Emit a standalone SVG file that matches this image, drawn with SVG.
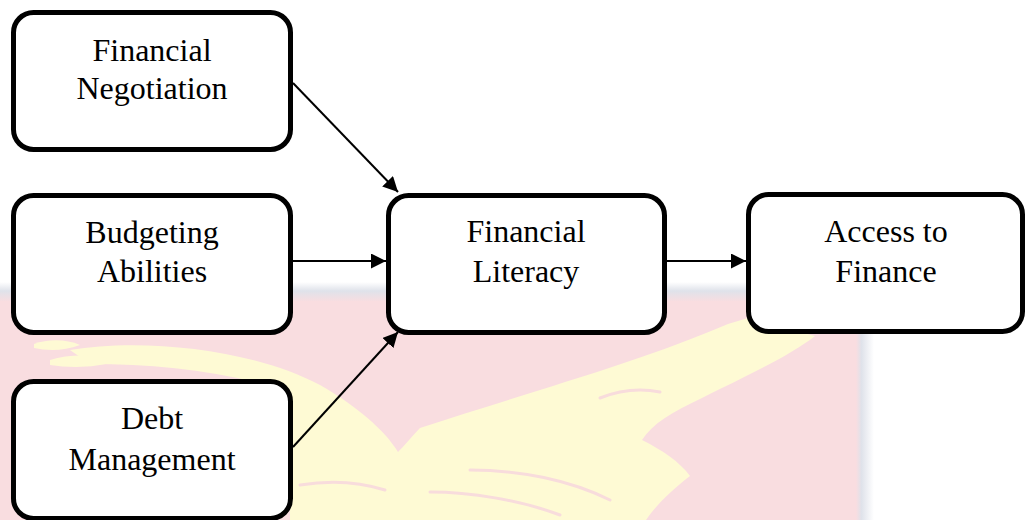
<svg xmlns="http://www.w3.org/2000/svg" width="1027" height="520" viewBox="0 0 1027 520">
<defs>
<style>
.box{fill:#ffffff;stroke:#000000;stroke-width:5}
.lbl{font-family:"Liberation Serif","Times New Roman",serif;font-size:32px;fill:#000000;text-anchor:middle}
.conn{stroke:#000000;stroke-width:2;fill:none;marker-end:url(#arrow)}
.wm-y{fill:#fefad4}
.wm-f{fill:none;stroke:#f8dcdc;stroke-width:3;stroke-linecap:round}
</style>
<marker id="arrow" markerUnits="userSpaceOnUse" markerWidth="16" markerHeight="15" refX="15" refY="7.5" orient="auto">
<path d="M0,0 L15,7.5 L0,15 Z" fill="#000000"/>
</marker>
<linearGradient id="band" x1="0" y1="0" x2="0" y2="1">
<stop offset="0" stop-color="#ffffff"/>
<stop offset="0.45" stop-color="#dfe2ea"/>
<stop offset="1" stop-color="#f9dde0"/>
</linearGradient>
<linearGradient id="vstrip" x1="0" y1="0" x2="1" y2="0">
<stop offset="0" stop-color="#f9dde0"/>
<stop offset="0.3" stop-color="#dfe2ea"/>
<stop offset="1" stop-color="#ffffff"/>
</linearGradient>
</defs>
<rect width="1027" height="520" fill="#ffffff"/>
<g id="watermark">
<rect x="0" y="282" width="870" height="20" fill="url(#band)"/>
<rect x="0" y="301" width="858" height="219" fill="#f9dde0"/>
<rect x="856" y="300" width="18" height="220" fill="url(#vstrip)"/>
<path class="wm-y" d="M70 350 C140 338 250 348 320 385 C355 405 385 430 398 452 C405 445 412 436 420 428 C520 395 640 362 728 324 L748 318 L815 336 C790 356 742 378 702 398 C672 412 652 424 642 440 C662 450 680 462 690 476 C672 490 656 505 646 520 L290 520 L290 392 C230 372 160 364 90 364 Z"/>
<path class="wm-y" d="M34 344 C48 339 66 339 80 345 C64 351 48 351 34 348 Z"/>
<path class="wm-y" d="M50 360 C70 354 96 354 116 361 C96 368 70 368 50 365 Z"/>
<path class="wm-f" d="M600 398 C620 390 640 388 660 392"/>
<path class="wm-f" d="M470 470 C520 470 570 480 610 500"/>
<path class="wm-f" d="M430 492 C470 492 520 500 560 515"/>
<path class="wm-f" d="M300 485 C330 480 360 482 385 490"/>
</g>
<g id="connectors">
<line class="conn" x1="293" y1="83" x2="398" y2="192"/>
<line class="conn" x1="293" y1="261" x2="386" y2="261"/>
<line class="conn" x1="293" y1="447" x2="398" y2="332"/>
<line class="conn" x1="667" y1="261" x2="746" y2="261"/>
</g>
<g id="node-financial-negotiation">
<rect class="box" x="13.5" y="12.5" width="277" height="137" rx="20"/>
<text class="lbl" x="152" y="61">Financial</text>
<text class="lbl" x="152" y="99">Negotiation</text>
</g>
<g id="node-budgeting-abilities">
<rect class="box" x="13.5" y="195.5" width="277" height="137" rx="20"/>
<text class="lbl" x="152" y="243">Budgeting</text>
<text class="lbl" x="152" y="282">Abilities</text>
</g>
<g id="node-debt-management">
<rect class="box" x="13.5" y="381.5" width="277" height="137" rx="20"/>
<text class="lbl" x="152" y="429">Debt</text>
<text class="lbl" x="152" y="470">Management</text>
</g>
<g id="node-financial-literacy">
<rect class="box" x="388.5" y="195.5" width="276" height="137" rx="20"/>
<text class="lbl" x="526" y="242">Financial</text>
<text class="lbl" x="526" y="282">Literacy</text>
</g>
<g id="node-access-to-finance">
<rect class="box" x="748.5" y="194.5" width="274" height="137" rx="20"/>
<text class="lbl" x="886" y="242">Access to</text>
<text class="lbl" x="886" y="282">Finance</text>
</g>
</svg>
